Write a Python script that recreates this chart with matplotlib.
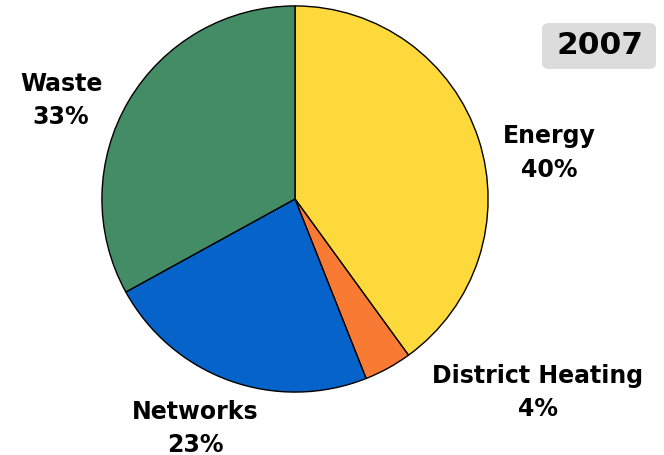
import matplotlib.pyplot as plt
from matplotlib.patches import FancyBboxPatch

# Data
labels = ['Energy', 'District Heating', 'Networks', 'Waste']
shares = [40, 4, 23, 33]
colors = ['#FDD93B', '#F97A33', '#0563CA', '#448C65']
year = '2007'

W, H = 664, 456
fig = plt.figure(figsize=(W / 100, H / 100), dpi=100)

# pie axes: square 390x390 px centred around (295, 200)
ax = fig.add_axes([100 / W, (H - 395) / H, 390 / W, 390 / H])
ax.pie(shares, colors=colors, startangle=90, counterclock=False,
       wedgeprops=dict(edgecolor='black', linewidth=1))
ax.set_xlim(-1.01, 1.01)
ax.set_ylim(-1.01, 1.01)
ax.set_aspect('equal')
ax.axis('off')

# label positions in pixels: (x, y of name line, y of percent line)
label_pos = [(549, 136, 170), (538, 376, 409), (195, 412, 445), (61, 84, 117)]
for name, val, (px, y1, y2) in zip(labels, shares, label_pos):
    fig.text(px / W, 1 - y1 / H, name, ha='center', va='center',
             fontsize=17, fontweight='bold')
    fig.text(px / W, 1 - y2 / H, f'{val}%', ha='center', va='center',
             fontsize=17, fontweight='bold')

# year box
box = FancyBboxPatch((542 / W, 1 - 70 / H), 114 / W, 46 / H,
                     boxstyle='round,pad=0,rounding_size=0.012',
                     transform=fig.transFigure, facecolor='#DCDCDC',
                     edgecolor='none')
fig.patches.append(box)
fig.text(600 / W, 1 - 46 / H, year, ha='center', va='center',
         fontsize=22.5, fontweight='bold')

fig.savefig('out.png', dpi=100)
